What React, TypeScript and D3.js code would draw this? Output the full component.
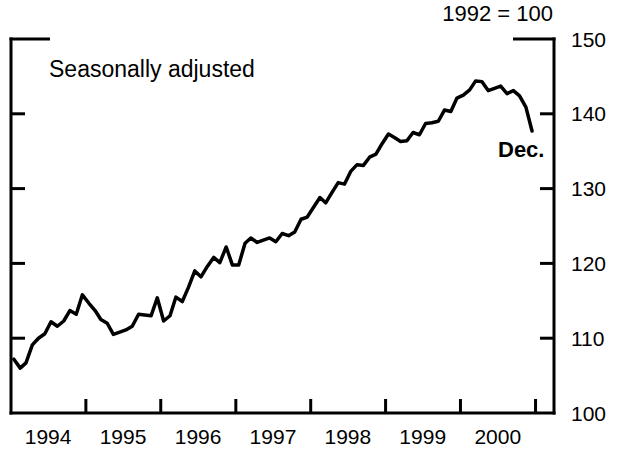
import React, { useEffect, useRef } from 'react';
import * as d3 from 'd3';

// Monthly index, Jan 1994 .. Dec 2000 (1992 = 100), seasonally adjusted
const startYear = 1994;
const indexValues = [
    107.2, 106.0, 106.7, 109.1, 110.0, 110.6, 112.2, 111.6, 112.3, 113.7, 113.2, 115.8,
    114.7, 113.7, 112.5, 112.0, 110.5, 110.8, 111.1, 111.6, 113.2, 113.1, 113.0, 115.4,
    112.3, 113.0, 115.5, 114.9, 116.8, 119.0, 118.2, 119.6, 120.8, 120.1, 122.2, 119.8,
    119.8, 122.7, 123.4, 122.8, 123.1, 123.4, 122.9, 124.0, 123.7, 124.2, 125.9, 126.2,
    127.5, 128.8, 128.1, 129.5, 130.8, 130.6, 132.3, 133.2, 133.1, 134.2, 134.6, 136.0,
    137.3, 136.8, 136.3, 136.4, 137.5, 137.2, 138.7, 138.8, 139.0, 140.5, 140.3, 142.1,
    142.5, 143.2, 144.4, 144.3, 143.1, 143.4, 143.7, 142.7, 143.1, 142.4, 140.9, 137.7,
];
const yearLabels = ['1994', '1995', '1996', '1997', '1998', '1999', '2000'];
const yTicks = [100, 110, 120, 130, 140, 150];
const innerYTicks = [110, 120, 130, 140];

const W = 627;
const H = 452;
const FONT = '"Liberation Sans", Arial, Helvetica, sans-serif';

const ChartCore: React.FC = () => {
    const svgRef = useRef<SVGSVGElement>(null);

    useEffect(() => {
        if (!svgRef.current) return;
        const svg = d3.select(svgRef.current);
        svg.selectAll('*').remove();

        const left = 11, right = 554, top = 39, bottom = 413;

        const x = d3.scaleTime()
            .domain([new Date(1994, 0, 1), new Date(2001, 3, 1)])
            .range([left, right]);
        const y = d3.scaleLinear().domain([100, 150]).range([bottom, top]);

        const data = indexValues.map((v, i) => ({
            date: new Date(startYear + Math.floor(i / 12), i % 12, 15),
            value: v,
        }));

        const g = svg.append('g').attr('stroke', '#000').attr('stroke-width', 3).attr('fill', 'none');

        // frame: left, right, bottom, plus top corner pieces
        g.append('line').attr('x1', left).attr('x2', left).attr('y1', top - 1.5).attr('y2', bottom + 1.5);
        g.append('line').attr('x1', right).attr('x2', right).attr('y1', top - 1.5).attr('y2', bottom + 1.5);
        g.append('line').attr('x1', left - 1.5).attr('x2', right + 1.5).attr('y1', bottom).attr('y2', bottom);
        g.append('line').attr('x1', left - 1.5).attr('x2', left + 39).attr('y1', top).attr('y2', top);
        g.append('line').attr('x1', right - 41).attr('x2', right + 1.5).attr('y1', top).attr('y2', top);

        // y ticks on both sides, pointing inward
        g.selectAll('.ltk').data(innerYTicks).join('line')
            .attr('class', 'ltk')
            .attr('x1', left).attr('x2', left + 14)
            .attr('y1', d => y(d)).attr('y2', d => y(d));
        g.selectAll('.rtk').data(innerYTicks).join('line')
            .attr('class', 'rtk')
            .attr('x1', right - 14).attr('x2', right)
            .attr('y1', d => y(d)).attr('y2', d => y(d));

        // year boundary ticks
        const yearStarts = d3.range(1995, 2002).map(yr => new Date(yr, 0, 1));
        g.selectAll('.xt').data(yearStarts).join('line')
            .attr('class', 'xt')
            .attr('x1', d => x(d)).attr('x2', d => x(d))
            .attr('y1', bottom).attr('y2', bottom - 14);

        // series
        const line = d3.line<{ date: Date; value: number }>()
            .x(d => x(d.date))
            .y(d => y(d.value));
        svg.append('path')
            .datum(data)
            .attr('d', line)
            .attr('fill', 'none')
            .attr('stroke', '#000')
            .attr('stroke-width', 3.5)
            .attr('stroke-linejoin', 'round')
            .attr('stroke-linecap', 'round');

        const txt = svg.append('g').attr('font-family', FONT).attr('fill', '#000');

        txt.selectAll('.yl').data(yTicks).join('text')
            .attr('class', 'yl')
            .attr('x', right + 17)
            .attr('y', d => y(d) + 7.5)
            .attr('font-size', 21)
            .text(d => d);

        txt.selectAll('.xl').data(yearLabels).join('text')
            .attr('class', 'xl')
            .attr('x', d => x(new Date(+d, 6, 1)))
            .attr('y', 444)
            .attr('text-anchor', 'middle')
            .attr('font-size', 21)
            .text(d => d);

        txt.append('text').attr('x', 49).attr('y', 77).attr('font-size', 23).text('Seasonally adjusted');
        txt.append('text').attr('x', 553).attr('y', 21).attr('text-anchor', 'end').attr('font-size', 22).text('1992 = 100');
        txt.append('text').attr('x', 498).attr('y', 157).attr('font-size', 22).attr('font-weight', 'bold').text('Dec.');
    }, []);

    return (
        <svg ref={svgRef} width={W} height={H} viewBox={`0 0 ${W} ${H}`}
            style={{ position: 'absolute', left: 0, top: 0, background: '#fff' }} />
    );
};

export default function App() {
    return <ChartCore />;
}
